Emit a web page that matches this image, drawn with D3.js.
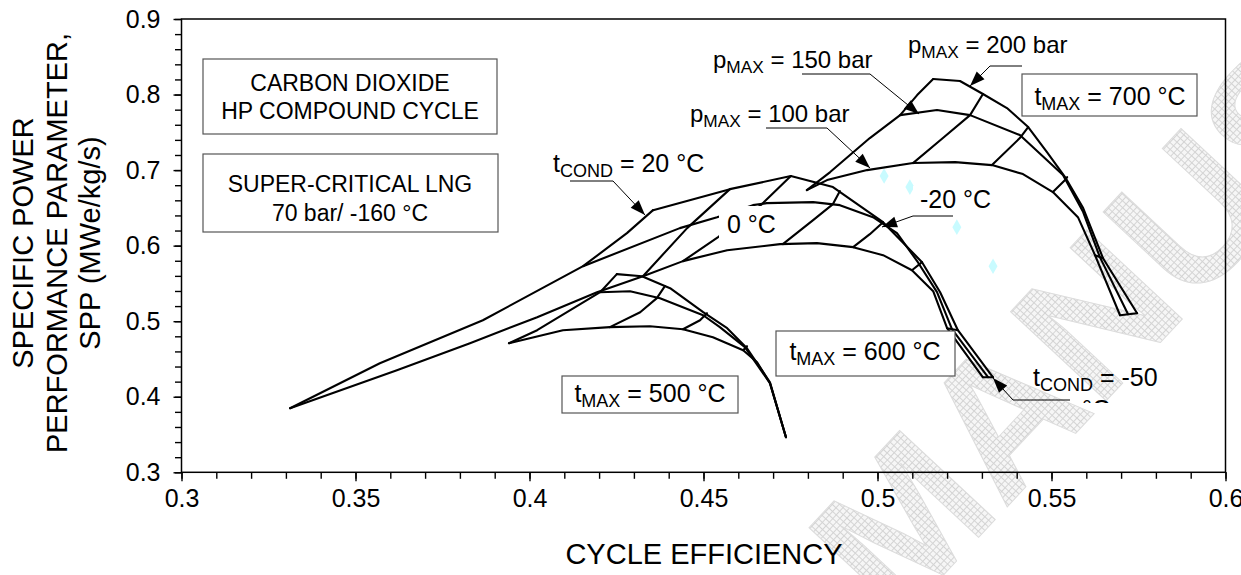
<!DOCTYPE html>
<html><head><meta charset="utf-8">
<script src="https://cdn.jsdelivr.net/npm/d3@7/dist/d3.min.js"></script>
<style>
body{margin:0;background:#fff;}
svg text{font-family:"Liberation Sans",Arial,Helvetica,sans-serif;fill:#000;}
</style></head><body>
<svg id="chart" width="1241" height="575"></svg>
<script>
// ---------------- DATA ----------------
const xTickValues=[0.3,0.35,0.4,0.45,0.5,0.55,0.6];
const xTickLabels=["0.3","0.35","0.4","0.45","0.5","0.55","0.6"];
const yTickValues=[0.3,0.4,0.5,0.6,0.7,0.8,0.9];
const yTickLabels=["0.3","0.4","0.5","0.6","0.7","0.8","0.9"];

// tMAX = 500 °C : constant pMAX curves (x = cycle efficiency, y = SPP)
const t500_p100=[[0.3941,0.4709],[0.4096,0.4881],[0.4231,0.4921],[0.4346,0.4934],[0.4441,0.4894],[0.4527,0.4788],[0.4614,0.4616],[0.4654,0.4457],[0.4691,0.4179],[0.4737,0.3464]];
const t500_p150=[[0.4203,0.5384],[0.4289,0.5397],[0.4375,0.5305],[0.4499,0.5079],[0.4547,0.4921],[0.4619,0.4656],[0.4691,0.4179],[0.4737,0.3464]];
const t500_p200=[[0.4251,0.5623],[0.4323,0.5596],[0.4404,0.5437],[0.4499,0.5119],[0.4568,0.4907],[0.4625,0.4642],[0.4691,0.4192],[0.4737,0.3464]];
// tMAX = 500 °C : constant tCOND curves
const t500_cond=[
  [[0.3941,0.4709],[0.4022,0.4881],[0.4203,0.5384],[0.4251,0.5623]],
  [[0.4231,0.4921],[0.4318,0.5119],[0.4366,0.5305],[0.4389,0.5464]],
  [[0.4441,0.4894],[0.4490,0.5013],[0.4510,0.5106]],
  [[0.4614,0.4616],[0.4625,0.4669]]
];

// tMAX = 600 °C
const t600_p100=[[0.3312,0.3848],[0.3619,0.4351],[0.3829,0.4709],[0.4022,0.5053],[0.4194,0.5384],[0.4326,0.5596],[0.4441,0.5795],[0.4568,0.5940],[0.4720,0.6020],[0.4826,0.6033],[0.4930,0.5980],[0.5016,0.5874],[0.5099,0.5675],[0.5160,0.5397],[0.5200,0.4907],[0.5303,0.4258]];
const t600_p150=[[0.4154,0.5728],[0.4432,0.6232],[0.4539,0.6377],[0.4642,0.6536],[0.4682,0.6563],[0.4815,0.6576],[0.4892,0.6536],[0.4987,0.6377],[0.5056,0.6166],[0.5116,0.5781],[0.5171,0.5384],[0.5214,0.4894],[0.5318,0.4258]];
const t600_p200=[[0.4355,0.6470],[0.4576,0.6748],[0.4751,0.6921],[0.4872,0.6775],[0.5016,0.6311],[0.5128,0.5781],[0.5180,0.5384],[0.5231,0.4881],[0.5332,0.4258]];
const t600_cond=[
  [[0.3312,0.3848],[0.3570,0.4444],[0.3866,0.5013],[0.4154,0.5728],[0.4280,0.6166],[0.4355,0.6470]],
  [[0.4326,0.5596],[0.4453,0.6232],[0.4576,0.6748]],
  [[0.4441,0.5795],[0.4542,0.6113],[0.4668,0.6550],[0.4751,0.6921]],
  [[0.4728,0.6020],[0.4815,0.6338],[0.4872,0.6550],[0.4892,0.6722]],
  [[0.4930,0.5980],[0.4978,0.6152],[0.5016,0.6311]],
  [[0.5099,0.5675],[0.5128,0.5781]],
  [[0.5200,0.4907],[0.5231,0.4881]],
  [[0.5303,0.4258],[0.5332,0.4258]]
];

// tMAX = 700 °C
const t700_p100=[[0.4797,0.6735],[0.4855,0.6868],[0.4970,0.7000],[0.5102,0.7093],[0.5223,0.7106],[0.5329,0.7066],[0.5418,0.6947],[0.5504,0.6709],[0.5576,0.6377],[0.5625,0.5874],[0.5697,0.5079]];
const t700_p150=[[0.5065,0.7728],[0.5171,0.7795],[0.5266,0.7728],[0.5409,0.7464],[0.5533,0.6934],[0.5591,0.6444],[0.5639,0.5848],[0.5720,0.5093]];
const t700_p200=[[0.5160,0.8205],[0.5237,0.8179],[0.5303,0.8007],[0.5372,0.7821],[0.5433,0.7570],[0.5487,0.7238],[0.5539,0.6907],[0.5591,0.6497],[0.5648,0.5834],[0.5746,0.5106]];
const t700_cond=[
  [[0.4797,0.6735],[0.4864,0.6974],[0.4978,0.7424],[0.5065,0.7728],[0.5114,0.7993],[0.5160,0.8205]],
  [[0.5102,0.7093],[0.5188,0.7424],[0.5266,0.7728],[0.5303,0.8007]],
  [[0.5329,0.7066],[0.5409,0.7424],[0.5433,0.7570]],
  [[0.5504,0.6709],[0.5539,0.6868],[0.5545,0.6907]],
  [[0.5625,0.5874],[0.5648,0.5834]],
  [[0.5697,0.5079],[0.5746,0.5106]]
];

// light cyan markers
const cyanPoints=[[0.5019,0.6921],[0.5093,0.6775],[0.5228,0.6245],[0.5332,0.5728]];

// ---------------- CHART ----------------
const W=1241,H=575;
const svg=d3.select("#chart");
const defs=svg.append("defs");
const pat=defs.append("pattern").attr("id","hatch").attr("width",5).attr("height",5)
  .attr("patternUnits","userSpaceOnUse");
pat.append("rect").attr("width",5).attr("height",5).attr("fill","#f6f6f6");
pat.append("path").attr("d","M0 0.5H5M0.5 0V5").attr("stroke","#d4d4d4").attr("stroke-width",1);

// faint watermark (behind the chart)
svg.append("text").attr("transform","translate(896,626) rotate(-47)")
  .attr("font-size",190).attr("font-weight","bold")
  .style("fill","url(#hatch)").attr("stroke","#dcdcdc").attr("stroke-width",1)
  .text("MANUSCRIPT");

const x=d3.scaleLinear().domain([0.3,0.6]).range([181.5,1225.5]);
const y=d3.scaleLinear().domain([0.3,0.9]).range([472.3,19]);
const line=d3.line().x(d=>x(d[0])).y(d=>y(d[1]));

// axes
const xMinor=d3.range(30,61).map(v=>v/100);
const yMinor=d3.range(15,46).map(v=>v/50);
const gx=svg.append("g").attr("transform",`translate(0,${y(0.3)})`);
gx.call(d3.axisBottom(x).tickValues(xMinor).tickSize(6.5).tickFormat(""));
gx.call(g=>g.select(".domain").remove());
const gx2=svg.append("g").attr("transform",`translate(0,${y(0.3)})`);
gx2.call(d3.axisBottom(x).tickValues(xTickValues).tickSize(9).tickPadding(8)
  .tickFormat((d,i)=>xTickLabels[i]));
gx2.select(".domain").remove();
gx2.selectAll("text").attr("font-size",25).attr("font-family","Liberation Sans, Arial, sans-serif").attr("fill","#000");

const gy=svg.append("g").attr("transform",`translate(${x(0.3)},0)`);
gy.call(d3.axisLeft(y).tickValues(yMinor).tickSize(6.5).tickFormat(""));
gy.select(".domain").remove();
const gy2=svg.append("g").attr("transform",`translate(${x(0.3)},0)`);
gy2.call(d3.axisLeft(y).tickValues(yTickValues).tickSize(8).tickPadding(13)
  .tickFormat((d,i)=>yTickLabels[i]));
gy2.select(".domain").remove();
gy2.selectAll("text").attr("font-size",25).attr("font-family","Liberation Sans, Arial, sans-serif").attr("fill","#000");
svg.selectAll(".tick line").attr("stroke","#000").attr("stroke-width",1.4);

// frame
svg.append("rect").attr("x",x(0.3)).attr("y",y(0.9))
  .attr("width",x(0.6)-x(0.3)).attr("height",y(0.3)-y(0.9))
  .attr("fill","none").attr("stroke","#000").attr("stroke-width",1.5);

// axis titles
svg.append("text").attr("x",704).attr("y",564).attr("text-anchor","middle")
  .attr("font-size",29).text("CYCLE EFFICIENCY");
[["SPECIFIC POWER",33],["PERFORMANCE PARAMETER,",67],["SPP (MWe/kg/s)",100]].forEach(([t,bx])=>{
  svg.append("text").attr("transform",`translate(${bx},243) rotate(-90)`)
    .attr("text-anchor","middle").attr("font-size",29).text(t);
});

// cyan markers
const sym=d3.symbol().type(d3.symbolDiamond).size(70);
svg.append("g").selectAll("path").data(cyanPoints).join("path")
  .attr("d",sym).attr("transform",d=>`translate(${x(d[0])},${y(d[1])})`)
  .attr("fill","#c8fbff");

// curves
const curves=svg.append("g").attr("fill","none").attr("stroke","#000")
  .attr("stroke-width",2.1).attr("stroke-linejoin","round").attr("stroke-linecap","round");
[t500_p100,t500_p150,t500_p200,...t500_cond,
 t600_p100,t600_p150,t600_p200,...t600_cond,
 t700_p100,t700_p150,t700_p200,...t700_cond].forEach(pts=>{
  curves.append("path").attr("d",line(pts));
});

// ---------------- ANNOTATIONS ----------------
const ann=svg.append("g");
function leader(pts){
  ann.append("path").attr("d",d3.line()(pts)).attr("stroke","#000").attr("stroke-width",1).attr("fill","none");
  const [x1,y1]=pts[pts.length-2],[x2,y2]=pts[pts.length-1];
  const a=Math.atan2(y2-y1,x2-x1),L=15,Wd=5.5;
  const bx=x2-L*Math.cos(a),by=y2-L*Math.sin(a);
  const p=[[x2,y2],[bx+Wd*Math.sin(a),by-Wd*Math.cos(a)],[bx-Wd*Math.sin(a),by+Wd*Math.cos(a)]];
  ann.append("path").attr("d","M"+p.join("L")+"Z").attr("fill","#000");
}
function subText(g,px,py,base,sub,rest,fs,anchor){
  const t=g.append("text").attr("x",px).attr("y",py).attr("font-size",fs)
    .attr("text-anchor",anchor||"start");
  t.append("tspan").text(base);
  t.append("tspan").attr("font-size",fs*0.72).attr("dy",fs*0.2).text(sub);
  t.append("tspan").attr("dy",-fs*0.2).text(rest);
  return t;
}
function box(x0,y0,x1,y1){
  ann.append("rect").attr("x",x0).attr("y",y0).attr("width",x1-x0).attr("height",y1-y0)
    .attr("fill","#fff").attr("stroke","#555").attr("stroke-width",1.2);
}

// white backgrounds for inline labels
ann.append("rect").attr("x",719).attr("y",206).attr("width",60).attr("height",33).attr("fill","#fff");
ann.append("rect").attr("x",913).attr("y",186).attr("width",80).attr("height",26).attr("fill","#fff");

ann.append("text").attr("x",727).attr("y",233).attr("font-size",25).text("0 °C");
ann.append("text").attr("x",920).attr("y",208).attr("font-size",25).text("-20 °C");
leader([[953,216],[913,216],[882,227]]);

subText(ann,553,172,"t","COND"," = 20 °C",25);
leader([[570,181],[613,181],[645,215]]);

subText(ann,690,122,"p","MAX"," = 100 bar",24);
leader([[766,128],[827,128],[870,168]]);

subText(ann,713,68,"p","MAX"," = 150 bar",24);
leader([[802,74],[870,74],[919,114]]);

subText(ann,908,53,"p","MAX"," = 200 bar",24);
leader([[1022,66],[990,66],[970,86]]);

// tCOND = -50 °C (second line partly hidden)
subText(ann,1033,386,"t","COND"," = -50",25);
const clip=defs.append("clipPath").attr("id","clipC");
clip.append("rect").attr("x",1060).attr("y",380).attr("width",80).attr("height",23);
ann.append("text").attr("x",1082).attr("y",418).attr("font-size",25).attr("clip-path","url(#clipC)").text("°C");
leader([[1070,400],[1013,400],[993,378]]);

// boxes
box(203,59,497,134);
ann.append("text").attr("x",350).attr("y",91).attr("text-anchor","middle").attr("font-size",23).text("CARBON DIOXIDE");
ann.append("text").attr("x",350).attr("y",119).attr("text-anchor","middle").attr("font-size",23).text("HP COMPOUND CYCLE");
box(203,154,498,232);
ann.append("text").attr("x",350).attr("y",192).attr("text-anchor","middle").attr("font-size",23).text("SUPER-CRITICAL LNG");
ann.append("text").attr("x",350).attr("y",221).attr("text-anchor","middle").attr("font-size",23).text("70 bar/ -160 °C");

box(562,376,738,413);
subText(ann,650,402,"t","MAX"," = 500 °C",25,"middle");
box(776,331,955,376);
subText(ann,865,360,"t","MAX"," = 600 °C",25,"middle");
box(1022,74,1197,116);
subText(ann,1110,105,"t","MAX"," = 700 °C",25,"middle");
</script>
</body></html>
